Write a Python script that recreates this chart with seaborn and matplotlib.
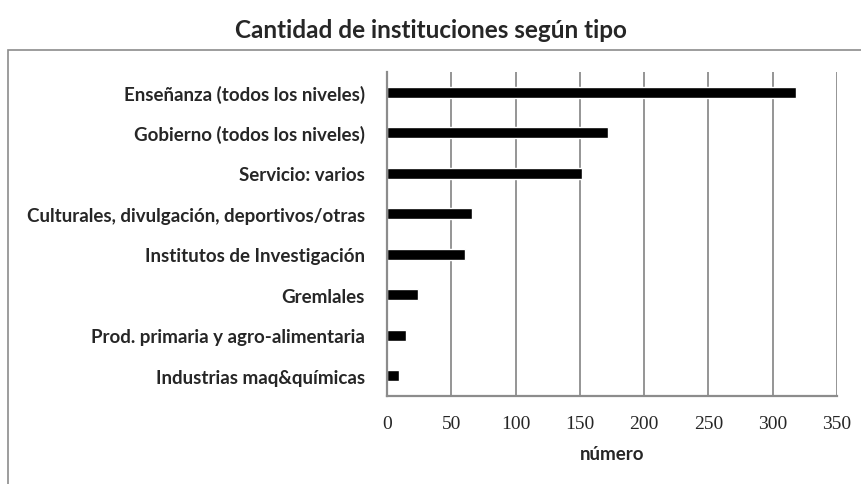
import matplotlib
matplotlib.use("Agg")
import matplotlib.pyplot as plt
import seaborn as sns
import pandas as pd
from matplotlib.patches import Rectangle

tipos = [
    "Enseñanza (todos los niveles)",
    "Gobierno (todos los niveles)",
    "Servicio: varios",
    "Culturales, divulgación, deportivos/otras",
    "Institutos de Investigación",
    "Gremlales",
    "Prod. primaria y agro-alimentaria",
    "Industrias maq&químicas",
]
cantidad = [318, 172, 152, 66, 61, 24, 15, 9]
xticks = [0, 50, 100, 150, 200, 250, 300, 350]

df = pd.DataFrame({"tipo": tipos, "cantidad": cantidad})

sns.set_style("white")
plt.rcParams["font.family"] = ["Lato", "DejaVu Sans"]

fig = plt.figure(figsize=(8.61, 4.85), dpi=100)
ax = fig.add_axes([0.4495, 0.1814, 0.5226, 0.668])

sns.barplot(data=df, x="cantidad", y="tipo", order=tipos, color="black",
            width=0.28, orient="h", ax=ax, saturation=1)

gray = "#8c8c8c"
ax.set_xlim(0, 350)
ax.set_ylim(7.5, -0.5)
ax.set_xticks(xticks)
ax.set_xticklabels([str(v) for v in xticks], family="Liberation Serif", fontsize=14)
ax.set_yticks(range(len(tipos)))
ax.set_yticklabels(tipos, fontsize=13.5, fontweight="bold")
ax.set_yticks([i - 0.5 for i in range(len(tipos) + 1)], minor=True)
ax.tick_params(axis="y", which="major", length=0, pad=16)
ax.tick_params(axis="y", which="minor", length=5, color=gray, width=1.2, direction="out")
ax.tick_params(axis="x", length=5, color=gray, width=1.2, direction="out", pad=9)
ax.grid(axis="x", color=gray, linewidth=1.3)
ax.set_axisbelow(True)
for s in ["top", "right"]:
    ax.spines[s].set_visible(False)
for s in ["left", "bottom"]:
    ax.spines[s].set_color(gray)
    ax.spines[s].set_linewidth(1.6)
ax.set_ylabel("")
ax.set_xlabel("número", fontsize=13.5, fontweight="bold", labelpad=9)

fig.text(0.5, 0.938, "Cantidad de instituciones según tipo", ha="center", va="center",
         fontsize=17.5, fontweight="bold")

fig.patches.append(Rectangle((8 / 861, -0.2), 1.2, 0.2 + (1 - 51 / 485),
                             transform=fig.transFigure, fill=False,
                             edgecolor=gray, linewidth=1.2))

fig.savefig("out.png", dpi=100)
